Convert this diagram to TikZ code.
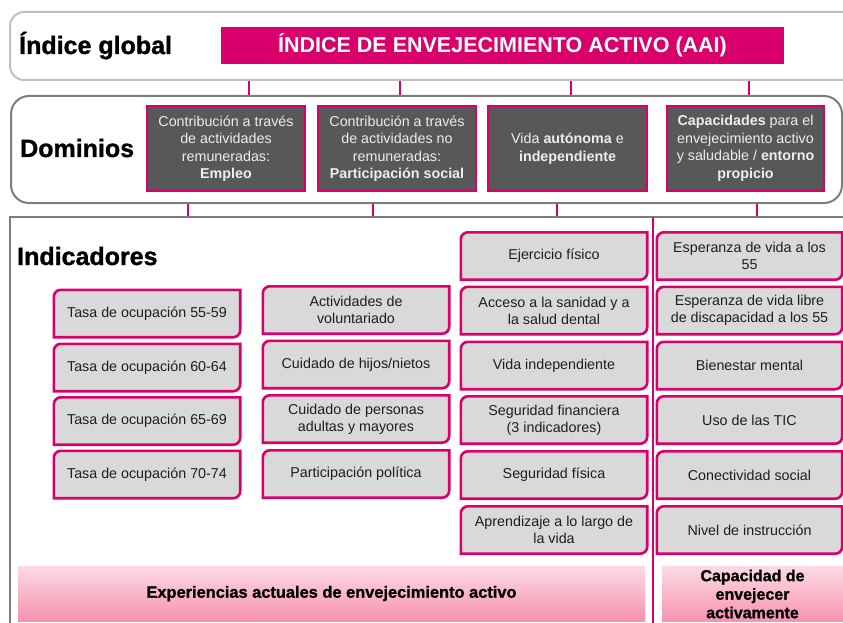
\documentclass[tikz,border=0pt]{standalone}
\usepackage{fontspec}
\setmainfont{Liberation Sans}
\newfontfamily\heavy{Liberation Sans}[BoldFeatures={FakeBold=1.2}]
\usetikzlibrary{backgrounds,calc}
\definecolor{mag}{RGB}{217,0,108}
\definecolor{dgray}{RGB}{88,88,88}
\definecolor{lgray}{RGB}{217,217,217}
\definecolor{pnl}{RGB}{125,125,125}
\definecolor{pnllight}{RGB}{192,192,192}
\definecolor{pinktop}{RGB}{252,218,227}
\definecolor{pinkbot}{RGB}{247,146,175}
\definecolor{txt}{RGB}{30,30,30}
\newcommand\diagborder[1]{%
  \draw[ibord] ([yshift=-7pt]#1.north west)
    .. controls ([yshift=-3.1pt]#1.north west) and ([xshift=3.1pt]#1.north west) .. ([xshift=7pt]#1.north west)
    -- (#1.north east) -- ([yshift=7pt]#1.south east)
    .. controls ([yshift=3.1pt]#1.south east) and ([xshift=-3.1pt]#1.south east) .. ([xshift=-7pt]#1.south east)
    -- (#1.south west) -- cycle;}
\tikzset{
  panel/.style={anchor=north west, inner sep=0pt, line width=2pt},
  conn/.style={draw=mag, line width=2.2pt},
  heading/.style={anchor=base west, inner sep=0pt, font=\heavy\bfseries\fontsize{25}{28}\selectfont},
  dombox/.style={draw=mag, fill=dgray, line width=2.2pt, text=white!93!black, align=center,
    minimum width=158pt, minimum height=85pt, inner sep=0pt,
    font=\fontsize{14.3}{17.5}\selectfont},
  ibox/.style={align=center, minimum width=186pt, minimum height=47pt, inner sep=0pt,
    text=txt, font=\fontsize{14.3}{17}\selectfont},
  ibord/.style={draw=mag, fill=lgray, line width=2.6pt},
  bar/.style={top color=pinktop, bottom color=pinkbot, draw=none, align=center,
    minimum height=55pt, inner sep=0pt, text=black, font=\heavy\bfseries\fontsize{16.4}{18}\selectfont},
}
\begin{document}
\begin{tikzpicture}[x=1pt,y=-1pt]
\useasboundingbox (0,0) rectangle (843,623);
\clip (0,0) rectangle (843,623);

% panels
\node[panel, draw=pnllight, rounded corners=14pt, minimum width=870pt, minimum height=68pt] (top) at (9,11) {};
\node[panel, draw=pnl, rounded corners=18pt, minimum width=831pt, minimum height=107pt] (dom) at (10,95) {};
\node[panel, draw=pnl, minimum width=870pt, minimum height=430pt] (ind) at (9,216) {};

% headings
\node[heading] (lglobal) at (19,54) {Índice global};
\node[heading] (ldom) at (20,157) {Dominios};
\node[heading] (lind) at (17,265) {Indicadores};

% global index
\node[fill=mag, text=white, minimum width=563pt, minimum height=37pt, inner sep=0pt,
  font=\bfseries\fontsize{21.5}{24}\selectfont] (aai) at (502.5,45.5) {ÍNDICE DE ENVEJECIMIENTO ACTIVO (AAI)};

% domains
\node[dombox] (d1) at (226,148.5) {Contribución a través\\de actividades\\remuneradas:\\\textbf{Empleo}};
\node[dombox] (d2) at (397,148.5) {Contribución a través\\de actividades no\\remuneradas:\\\textbf{Participación social}};
\node[dombox, minimum width=159pt] (d3) at (567.5,148.5) {Vida \textbf{autónoma} e\\\textbf{independiente}};
\node[dombox, minimum width=157pt] (d4) at (745.5,148.5) {\textbf{Capacidades} para el\\envejecimiento activo\\y saludable / \textbf{entorno}\\\textbf{propicio}};

% connectors
\foreach \n/\x in {c1/249,c2/400,c3/571,c4/749} {\coordinate (\n) at (\x,0);}
\foreach \n/\x in {e1/188,e2/373,e3/557,e4/757} {\coordinate (\n) at (\x,0);}
\foreach \n in {c1,c2,c3,c4} {\draw[conn] (top.south -| \n) -- (dom.north -| \n);}
\foreach \n in {e1,e2,e3,e4} {\draw[conn] (dom.south -| \n) -- (ind.north -| \n);}

% divider
\coordinate (dv1) at (653,217);
\coordinate (dv2) at (653,623);
\draw[conn, line width=2.6pt] (dv1) -- (dv2);

% indicator boxes
\node[ibox] (i11) at (147,313.5) {Tasa de ocupación 55-59};
\node[ibox] (i12) at (147,367.5) {Tasa de ocupación 60-64};
\node[ibox] (i13) at (147,421) {Tasa de ocupación 65-69};
\node[ibox] (i14) at (147,474.5) {Tasa de ocupación 70-74};

\node[ibox] (i21) at (356,310) {Actividades de\\voluntariado};
\node[ibox] (i22) at (356,364.5) {Cuidado de hijos/nietos};
\node[ibox] (i23) at (356,419) {Cuidado de personas\\adultas y mayores};
\node[ibox] (i24) at (356,474) {Participación política};

\node[ibox] (i31) at (554,256) {Ejercicio físico};
\node[ibox] (i32) at (554,310.5) {Acceso a la sanidad y a\\la salud dental};
\node[ibox] (i33) at (554,365.5) {Vida independiente};
\node[ibox] (i34) at (554,420) {Seguridad financiera\\(3 indicadores)};
\node[ibox] (i35) at (554,475) {Seguridad física};
\node[ibox] (i36) at (554,530) {Aprendizaje a lo largo de\\la vida};

\node[ibox, minimum width=185pt] (i41) at (749.5,256) {Esperanza de vida a los\\55};
\node[ibox, minimum width=185pt] (i42) at (749.5,310.5) {Esperanza de vida libre\\de discapacidad a los 55};
\node[ibox, minimum width=185pt] (i43) at (749.5,365.5) {Bienestar mental};
\node[ibox, minimum width=185pt] (i44) at (749.5,420) {Uso de las TIC};
\node[ibox, minimum width=185pt] (i45) at (749.5,475) {Conectividad social};
\node[ibox, minimum width=185pt] (i46) at (749.5,530) {Nivel de instrucción};

\begin{pgfonlayer}{background}
\foreach \b in {i11,i12,i13,i14,i21,i22,i23,i24,i31,i32,i33,i34,i35,i36,i41,i42,i43,i44,i45,i46} {\diagborder{\b}}
\end{pgfonlayer}

% bottom bars
\node[bar, minimum width=627pt] (exp) at (331.5,593.5) {Experiencias actuales de envejecimiento activo};
\node[bar, minimum width=181pt, font=\heavy\bfseries\fontsize{16}{18.5}\selectfont] (cap) at (752.5,594) {Capacidad de\\envejecer\\activamente};
\end{tikzpicture}
\end{document}
